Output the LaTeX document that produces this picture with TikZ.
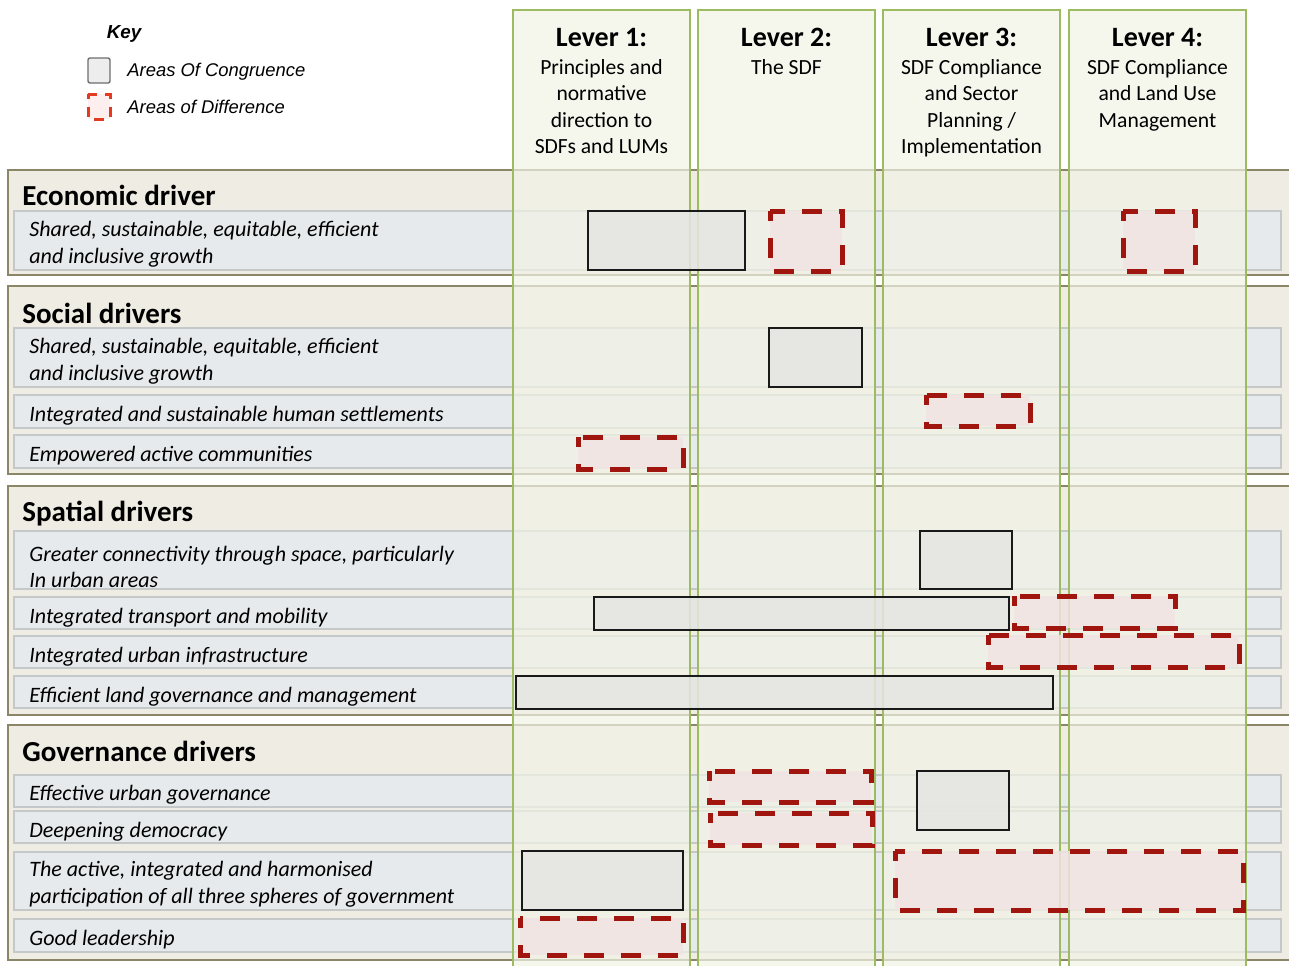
\documentclass[tikz,border=0pt]{standalone}
\usepackage{fontspec}
\setmainfont{Carlito}
\newfontfamily\keyfont{Liberation Sans}

\definecolor{sectfill}{HTML}{EFECE3}
\definecolor{sectdraw}{HTML}{8C8668}
\definecolor{rowfill}{HTML}{E7EAEC}
\definecolor{rowdraw}{HTML}{C5C8C8}
\definecolor{leverfill}{HTML}{F1F3E6}
\definecolor{leverdraw}{HTML}{9DBB61}
\definecolor{agreefill}{HTML}{E5E6E2}
\definecolor{differfill}{HTML}{F1E4E2}
\definecolor{differdraw}{HTML}{A0160E}
\definecolor{keyred}{HTML}{E53A22}

\begin{document}
\begin{tikzpicture}[x=0.5pt,y=-0.5pt,
  section/.style={fill=sectfill, draw=sectdraw, line width=1pt},
  rowstrip/.style={fill=rowfill, draw=rowdraw, line width=0.75pt},
  lever/.style={fill=leverfill, fill opacity=0.7, draw=leverdraw, line width=0.75pt},
  agree/.style={fill=agreefill, fill opacity=0.85, draw=black!90, line width=1pt},
  differ/.style={fill=differfill, fill opacity=0.85, draw=differdraw, line width=2.5pt,
                 dash pattern=on 10pt off 8.5pt, dash phase=5pt},
  sectitle/.style={anchor=base west, inner sep=0pt, font=\fontsize{14.5}{17}\selectfont\bfseries},
  rowtext/.style={anchor=west, inner sep=0pt, align=left,
                  font=\fontsize{11}{13.4}\selectfont\itshape},
  levertitle/.style={anchor=base, inner sep=0pt, font=\fontsize{14}{17}\selectfont\bfseries},
  leverbody/.style={anchor=north, inner sep=0pt, align=center,
                    font=\fontsize{10.8}{13.25}\selectfont},
  keytext/.style={anchor=west, inner sep=0pt, font=\keyfont\fontsize{9.2}{11}\selectfont\itshape}]

\useasboundingbox (0,0) rectangle (1289,965);
\clip (0,0) rectangle (1289,965);

% key
\node[inner sep=0pt, font=\keyfont\fontsize{9.4}{11}\selectfont\bfseries\itshape] (keytitle) at (124,34) {Key};
\draw[fill=black!7, draw=black!57, line width=0.7pt, rounded corners=1pt] (88,58) rectangle (110,83);
\draw[fill=keyred!8, draw=keyred, line width=1.5pt, dash pattern=on 5pt off 4pt, dash phase=2.5pt] (88,94) rectangle (110,119);
\node[keytext] (keyagree) at (127,72) {Areas Of Congruence};
\node[keytext] (keydiffer) at (127,107) {Areas of Difference};

% driver sections
\draw[section] (8,170) rectangle (1300,275);
\draw[section] (8,286) rectangle (1300,474);
\draw[section] (8,486) rectangle (1300,715);
\draw[section] (8,725) rectangle (1300,960);

\node[sectitle] (econ) at (22,205) {Economic driver};
\node[sectitle] (social) at (22,323) {Social drivers};
\node[sectitle] (spatial) at (22,521) {Spatial drivers};
\node[sectitle] (gov) at (22,761) {Governance drivers};

% driver rows
\draw[rowstrip] (14,211) rectangle (1281,270);
\draw[rowstrip] (14,328) rectangle (1281,387);
\draw[rowstrip] (14,395) rectangle (1281,428);
\draw[rowstrip] (14,435) rectangle (1281,468);
\draw[rowstrip] (14,531) rectangle (1281,589);
\draw[rowstrip] (14,597) rectangle (1281,629);
\draw[rowstrip] (14,636) rectangle (1281,668);
\draw[rowstrip] (14,676) rectangle (1281,708);
\draw[rowstrip] (14,775) rectangle (1281,807);
\draw[rowstrip] (14,811) rectangle (1281,843);
\draw[rowstrip] (14,852) rectangle (1281,910);
\draw[rowstrip] (14,919) rectangle (1281,952);

\node[rowtext] (econ1) at (29,244.5) {Shared, sustainable, equitable, efficient\\and inclusive growth};
\node[rowtext] (soc1) at (29,361.5) {Shared, sustainable, equitable, efficient\\and inclusive growth};
\node[rowtext] (soc2) at (29,415.5) {Integrated and sustainable human settlements};
\node[rowtext] (soc3) at (29,455.5) {Empowered active communities};
\node[rowtext] (spa1) at (29,567) {Greater connectivity through space, particularly\\In urban areas};
\node[rowtext] (spa2) at (29,617.5) {Integrated transport and mobility};
\node[rowtext] (spa3) at (29,656.5) {Integrated urban infrastructure};
\node[rowtext] (spa4) at (29,696.5) {Efficient land governance and management};
\node[rowtext] (gov1) at (29,794.5) {Effective urban governance};
\node[rowtext] (gov2) at (29,831.5) {Deepening democracy};
\node[rowtext] (gov3) at (29,884.5) {The active, integrated and harmonised\\participation of all three spheres of government};
\node[rowtext] (gov4) at (29,939.5) {Good leadership};

% lever columns
\draw[lever] (513,10) rectangle (690,980);
\draw[lever] (698,10) rectangle (875,980);
\draw[lever] (883,10) rectangle (1060,980);
\draw[lever] (1069,10) rectangle (1246,980);

\node[levertitle] (lever1) at (601.5,46) {Lever 1:};
\node[levertitle] (lever2) at (786.5,46) {Lever 2:};
\node[levertitle] (lever3) at (971.5,46) {Lever 3:};
\node[levertitle] (lever4) at (1157.5,46) {Lever 4:};
\node[leverbody] (lever1text) at (601.5,55.5) {\strut Principles and\\normative\\direction to\\SDFs and LUMs};
\node[leverbody] (lever2text) at (786.5,55.5) {\strut The SDF};
\node[leverbody] (lever3text) at (971.5,55.5) {\strut SDF Compliance\\and Sector\\Planning /\\Implementation};
\node[leverbody] (lever4text) at (1157.5,55.5) {\strut SDF Compliance\\and Land Use\\Management};

% areas of congruence
\draw[agree] (588,211) rectangle (745,270);
\draw[agree] (769,328) rectangle (862,387);
\draw[agree] (920,531) rectangle (1012,589);
\draw[agree] (594,597) rectangle (1009,630);
\draw[agree] (516,676) rectangle (1053,709);
\draw[agree] (917,771) rectangle (1009,830);
\draw[agree] (522,851) rectangle (683,910);

% areas of difference
\draw[differ] (770,211) rectangle (842,271);
\draw[differ] (1123,211) rectangle (1195,271);
\draw[differ] (926,395) rectangle (1030,426);
\draw[differ] (578,437) rectangle (683,469);
\draw[differ] (1014,596) rectangle (1175,628);
\draw[differ] (988,635) rectangle (1239,667);
\draw[differ] (709,771) rectangle (871,802);
\draw[differ] (710,813) rectangle (872,845);
\draw[differ] (895,851) rectangle (1243,910);
\draw[differ] (520,918) rectangle (683,955);
\end{tikzpicture}
\end{document}
